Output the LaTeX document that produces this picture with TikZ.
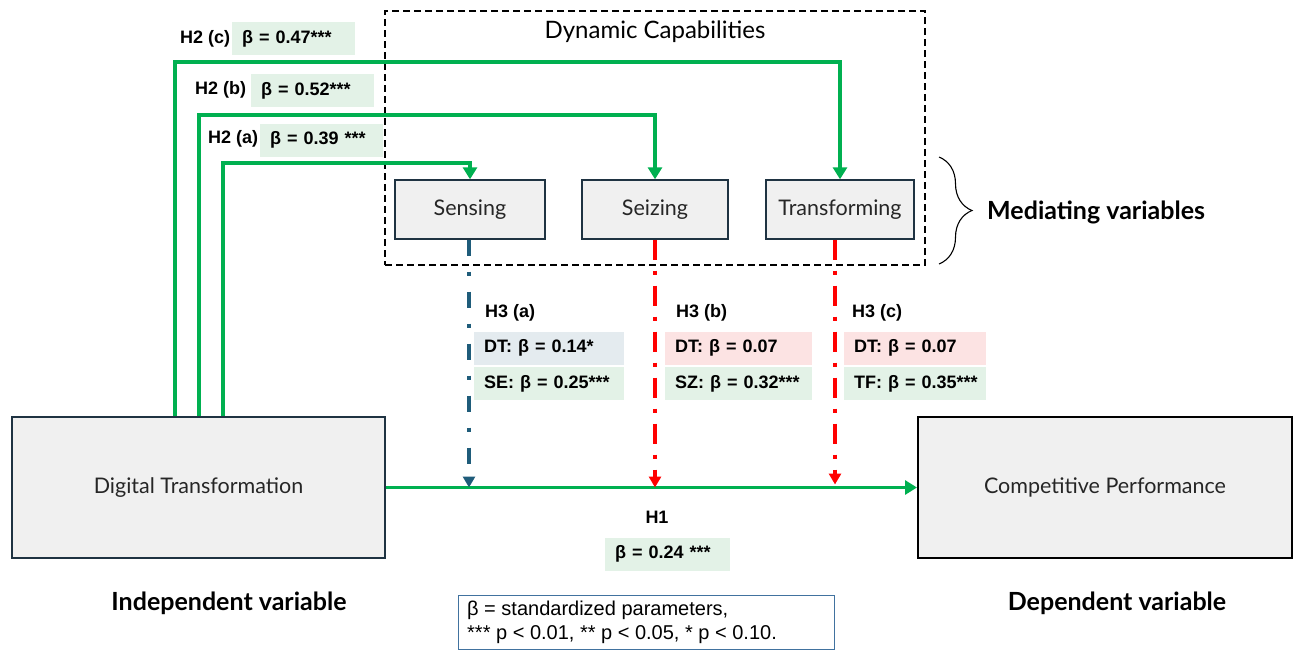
\documentclass[tikz,border=0pt]{standalone}
\usepackage{fontspec}
\setmainfont{Liberation Sans}
\newfontfamily\apt{Lato}
\usetikzlibrary{arrows.meta,calc,decorations.pathreplacing}
\definecolor{gr}{HTML}{00B050}
\definecolor{ddblue}{HTML}{1F5C7A}
\definecolor{ddred}{HTML}{FF0000}
\definecolor{boxfill}{HTML}{F0F0F0}
\definecolor{boxline}{HTML}{1F3342}
\definecolor{lgreen}{HTML}{E3F2E7}
\definecolor{lblue}{HTML}{E4EBEF}
\definecolor{lpink}{HTML}{FCE3E3}
\definecolor{noteline}{HTML}{41729F}
\tikzset{
  varbox/.style={draw=boxline, line width=1.4pt, fill=boxfill, inner sep=0pt,
    font=\apt\fontsize{21.5}{25}\selectfont, text=black!85},
  tagtext/.style={font=\bfseries\fontsize{18}{21}\selectfont, inner sep=0pt, anchor=west},
  valbox/.style={font=\bfseries\fontsize{18}{21}\selectfont, inner xsep=10pt, inner ysep=0pt,
    minimum height=33pt, anchor=west, align=left, text width=#1},
  bigtitle/.style={font=\apt\bfseries\fontsize{25}{29}\selectfont, inner sep=0pt},
  garrow/.style={draw=gr, line width=3.4pt, -{Triangle[width=14pt,length=12pt]}},
  ddline/.style={line width=3.8pt, -{Triangle[width=12pt,length=11pt]}},
  ddb/.style={ddline, draw=ddblue, color=ddblue, dash pattern=on 16pt off 16pt on 4pt off 16pt},
  ddr/.style={ddline, draw=ddred, color=ddred, dash pattern=on 20pt off 11pt on 4pt off 11pt}
}
\begin{document}
\begin{tikzpicture}[x=1pt,y=-1pt]
\useasboundingbox (0,0) rectangle (1298,651);

% dashed container
\node[draw=black, line width=1.6pt, dash pattern=on 7pt off 4pt, minimum width=540pt, minimum height=254pt, inner sep=0pt] (dc) at (655,138) {};
\node[font=\apt\fontsize{24}{28}\selectfont, inner sep=0pt] (dctitle) at (655,32) {Dynamic Capabilities};

% main boxes
\node[varbox, minimum width=373pt, minimum height=141pt] (dt) at (198.5,487.5) {Digital Transformation};
\node[varbox, draw=black, line width=2pt, minimum width=374pt, minimum height=141pt] (cp) at (1105,487.5) {Competitive Performance};

% mediator boxes
\node[varbox, minimum width=150pt, minimum height=59pt] (se) at (470,209.5) {Sensing};
\node[varbox, minimum width=146pt, minimum height=59pt] (sz) at (655,209.5) {Seizing};
\node[varbox, minimum width=148pt, minimum height=59pt] (tf) at (840,209.5) {Transforming};

% brace and label
\coordinate (bt) at (939,157);
\coordinate (bb) at (939,264);
\draw[line width=1.1pt, decorate, decoration={brace, amplitude=33pt}] (bt) -- (bb);
\node[bigtitle, anchor=west] (med) at (987,212) {Mediating variables};

% H2 paths
\coordinate (c3) at (175,62);
\coordinate (c2) at (199,115);
\coordinate (c1) at (223,163);
\draw[garrow] (c3 |- dt.north) -- (c3) -| (tf.north);
\draw[garrow] (c2 |- dt.north) -- (c2) -| (sz.north);
\draw[garrow] (c1 |- dt.north) -- (c1) -| (se.north);

% H1
\draw[garrow] (dt.east) -- (cp.west);

% H3 dash-dot
\coordinate (tfo) at ($(tf.south)+(-5,0)$);
\draw[ddb] ($(se.south)+(-1,0)$) -- ($(se.south |- dt.east)+(-1,0)$);
\draw[ddr] (sz.south) -- (sz.south |- dt.east);
\draw[ddr] (tfo) -- ($(tfo |- dt.east)+(0,-3)$);

% H2 labels
\node[tagtext] (h2c) at (180,39) {H2 (c)};
\node[valbox=103pt, fill=lgreen] (v2c) at (232,38.5) {\mbox{β = 0.47***}};
\node[tagtext] (h2b) at (195,90) {H2 (b)};
\node[valbox=103pt, fill=lgreen] (v2b) at (251,90.5) {\mbox{β = 0.52***}};
\node[tagtext] (h2a) at (208,139) {H2 (a)};
\node[valbox=103pt, fill=lgreen] (v2a) at (260,140) {\mbox{β = 0.39 ***}};

% H3 labels
\node[tagtext] (h3a) at (485,313) {H3 (a)};
\node[valbox=130pt, fill=lblue] (a1) at (474,348) {\mbox{DT: β = 0.14*}};
\node[valbox=130pt, fill=lgreen] (a2) at (474,383.5) {\mbox{SE: β = 0.25***}};
\node[tagtext] (h3b) at (676,313) {H3 (b)};
\node[valbox=127pt, fill=lpink] (b1) at (665,348) {\mbox{DT: β = 0.07}};
\node[valbox=127pt, fill=lgreen] (b2) at (665,383.5) {\mbox{SZ: β = 0.32***}};
\node[tagtext] (h3c) at (852,313) {H3 (c)};
\node[valbox=122pt, fill=lpink] (c1b) at (844,348) {\mbox{DT: β = 0.07}};
\node[valbox=122pt, fill=lgreen] (c2b) at (844,383.5) {\mbox{TF: β = 0.35***}};

% H1 label
\node[tagtext, anchor=center] (h1) at (657,517) {H1};
\node[valbox=105pt, fill=lgreen] (v1) at (605,554) {\mbox{β = 0.24 ***}};

% bottom labels
\node[bigtitle] (iv) at (229,603) {Independent variable};
\node[bigtitle] (dv) at (1117,603) {Dependent variable};

% note
\node[draw=noteline, line width=1.2pt, minimum width=376pt, minimum height=54pt, anchor=north west, inner sep=0pt] (note) at (458,595) {};
\node[anchor=west, align=left, inner sep=0pt, font=\fontsize{20}{24}\selectfont] (notetext) at (467,622) {β = standardized parameters,\\*** p < 0.01, ** p < 0.05, * p < 0.10.};
\end{tikzpicture}
\end{document}
